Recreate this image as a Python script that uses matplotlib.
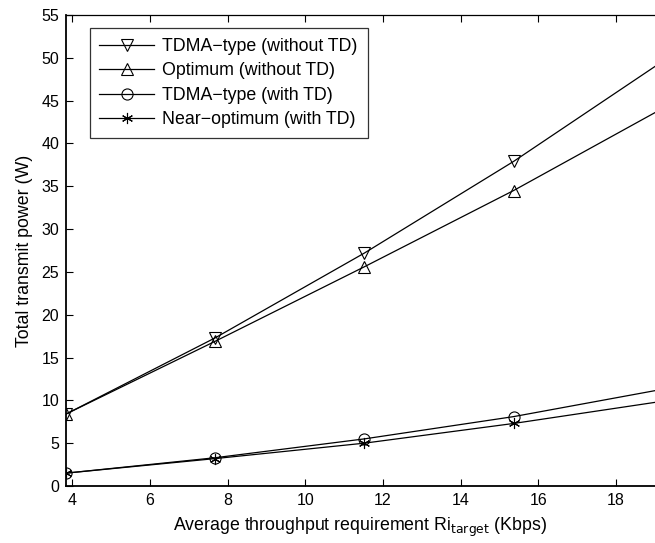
import matplotlib
matplotlib.use("Agg")
import matplotlib.pyplot as plt

plt.rcParams['font.family'] = ['Liberation Sans', 'DejaVu Sans']

rate = [3.84, 7.68, 11.52, 15.36, 19.2]
tdma_no_td = [8.4, 17.3, 27.2, 37.9, 49.6]
opt_no_td = [8.4, 16.9, 25.6, 34.5, 44.1]
tdma_td = [1.5, 3.3, 5.5, 8.1, 11.3]
nearopt_td = [1.5, 3.2, 5.0, 7.3, 9.9]

labels = ['TDMA\u2212type (without TD)', 'Optimum (without TD)',
          'TDMA\u2212type (with TD)', 'Near\u2212optimum (with TD)']
markers = ['v', '^', 'o', (6, 2, 0)]
sizes = [8.5, 8.5, 8, 8]
series = [tdma_no_td, opt_no_td, tdma_td, nearopt_td]

xticks = [4, 6, 8, 10, 12, 14, 16, 18]
yticks = list(range(0, 60, 5))

fig = plt.figure(figsize=(6.55, 5.43), dpi=100)
ax = fig.add_axes([0.1008, 0.105, 0.8992, 0.8674])

for ys, m, ms, lab in zip(series, markers, sizes, labels):
    ax.plot(rate, ys, color='black', linewidth=0.9, marker=m, markersize=ms,
            markerfacecolor='none', markeredgecolor='black',
            markeredgewidth=0.8, label=lab)

ax.set_xlim(3.84, 19.0)
ax.set_ylim(0, 55)
ax.set_xticks(xticks)
ax.set_yticks(yticks)
ax.tick_params(direction='in', top=True, right=False, labelsize=11.5,
               length=5, width=0.8, pad=5)
for s in ['left', 'bottom', 'top']:
    ax.spines[s].set_linewidth(1.3)
ax.spines['top'].set_linewidth(0.9)
ax.spines['right'].set_visible(False)

ax.set_xlabel('Average throughput requirement Ri$_{\\mathrm{target}}$ (Kbps)',
              fontsize=12.8, labelpad=6)
ax.set_ylabel('Total transmit power (W)', fontsize=12.8, labelpad=6)

leg = ax.legend(loc='upper left', bbox_to_anchor=(0.04, 0.972), fontsize=12.8,
                handlelength=3.1, frameon=True, fancybox=False,
                edgecolor='black', borderpad=0.55, labelspacing=0.42,
                handletextpad=0.45, borderaxespad=0.0)
leg.get_frame().set_linewidth(0.9)

fig.savefig('out.png', dpi=100)
